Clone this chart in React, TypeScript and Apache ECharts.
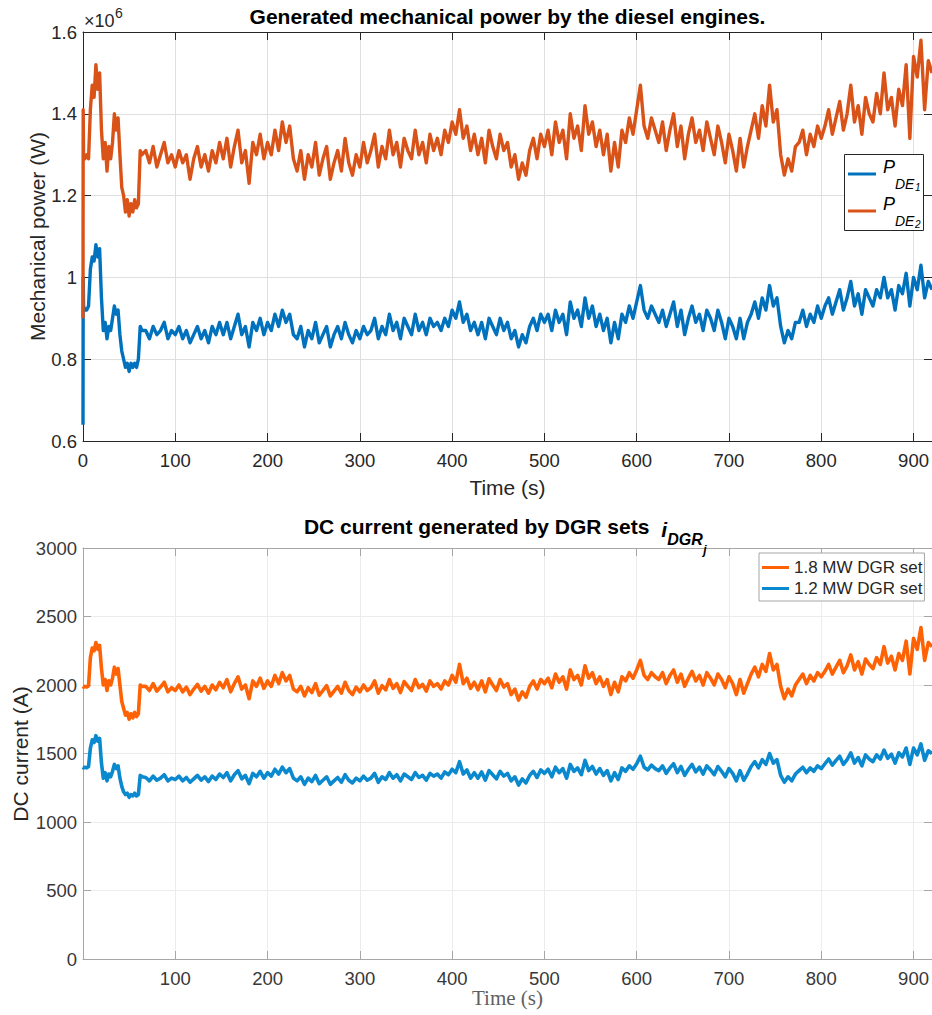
import React, { useEffect, useRef } from "react";
import * as echarts from "echarts";

// Sample instants (s): a finer start-up window, then a regular 4 s grid.
const EARLY_TIME = [
  0, 0.2, 0.6, 2, 4, 6, 8, 10, 12, 14, 16, 18, 20, 22, 24, 26, 28, 30,
  32, 34, 36, 38, 40, 42, 44, 46, 48, 50, 52, 54, 56, 58, 60, 62, 64,
];
const STEADY_START = 68;
const STEADY_STEP = 4;

// Mechanical power of diesel engine 1 (x 10^6 W)
const P_DE1 = [
  0.64, 1.0, 0.93, 0.92, 0.92, 0.93, 1.02, 1.05, 1.04, 1.08, 1.05, 1.07,
  0.95, 0.87, 0.89, 0.85, 0.88, 0.87, 0.9, 0.93, 0.91, 0.92, 0.86, 0.82,
  0.8, 0.78, 0.79, 0.77, 0.79, 0.78, 0.79, 0.78, 0.8, 0.88, 0.87,
  0.87, 0.85, 0.88, 0.86, 0.87, 0.89, 0.85, 0.87,
  0.86, 0.88, 0.85, 0.87, 0.84, 0.86, 0.88, 0.85, 0.87, 0.84, 0.88, 0.86, 0.89,
  0.86, 0.89, 0.85, 0.88, 0.91, 0.86, 0.88, 0.83, 0.89, 0.87, 0.9, 0.86,
  0.89, 0.87, 0.91, 0.88, 0.92, 0.89, 0.91, 0.86,
  0.85, 0.88, 0.83, 0.87, 0.85, 0.89, 0.84, 0.86, 0.88, 0.83, 0.86, 0.88, 0.85, 0.89, 0.86, 0.84, 0.87, 0.85,
  0.88, 0.86, 0.87, 0.9, 0.85, 0.88, 0.86, 0.91, 0.87, 0.89, 0.85, 0.9, 0.88, 0.86, 0.91, 0.87, 0.89, 0.86, 0.9, 0.88,
  0.89, 0.87, 0.9, 0.88, 0.92, 0.9, 0.94, 0.89, 0.91, 0.87,
  0.89, 0.86, 0.89, 0.85, 0.9, 0.88, 0.86, 0.9, 0.87, 0.89,
  0.85, 0.87, 0.83, 0.86, 0.84,
  0.88, 0.9, 0.87, 0.91, 0.89,
  0.91, 0.87, 0.92, 0.89, 0.91, 0.86, 0.94, 0.9, 0.92, 0.88, 0.95, 0.9, 0.93, 0.88, 0.91,
  0.87, 0.9, 0.84, 0.89, 0.85,
  0.91, 0.89, 0.93, 0.9, 0.94, 0.98, 0.92, 0.9, 0.93, 0.91,
  0.89, 0.92, 0.88, 0.91, 0.94, 0.88, 0.92, 0.86, 0.9, 0.93, 0.89, 0.91, 0.87, 0.92, 0.9, 0.87, 0.92, 0.89, 0.85, 0.9,
  0.88, 0.85, 0.9, 0.85, 0.89,
  0.91, 0.94, 0.9, 0.95, 0.92, 0.98, 0.93, 0.95,
  0.88, 0.84, 0.87, 0.85, 0.89,
  0.89, 0.92, 0.88, 0.91, 0.89, 0.93, 0.9,
  0.93, 0.95, 0.91, 0.94, 0.97, 0.92, 0.95, 0.99, 0.93, 0.96, 0.91, 0.97, 0.95,
  0.93, 0.97, 0.95, 1.0, 0.95, 0.97, 0.92, 0.98, 0.96, 1.01, 0.93,
  1.0, 0.97, 1.03, 0.95, 0.99, 0.97,
];

// Mechanical power of diesel engine 2 (x 10^6 W)
const P_DE2 = [
  0.9, 1.41, 1.3, 1.29, 1.3, 1.29, 1.41, 1.47, 1.44, 1.52, 1.46, 1.5,
  1.36, 1.29, 1.33, 1.26, 1.32, 1.29, 1.33, 1.4, 1.36, 1.39, 1.3, 1.22,
  1.2, 1.16, 1.19, 1.15, 1.18, 1.16, 1.19, 1.17, 1.18, 1.31, 1.3,
  1.31, 1.28, 1.32, 1.27, 1.3, 1.33, 1.28, 1.3,
  1.27, 1.31, 1.28, 1.3, 1.24, 1.29, 1.32, 1.27, 1.3, 1.26, 1.31, 1.28, 1.33,
  1.29, 1.34, 1.27, 1.32, 1.36, 1.28, 1.31, 1.23, 1.33, 1.3, 1.35, 1.29,
  1.33, 1.3, 1.36, 1.31, 1.38, 1.33, 1.37, 1.29,
  1.26, 1.31, 1.24, 1.3, 1.27, 1.33, 1.25, 1.29, 1.32, 1.24, 1.28, 1.31, 1.26, 1.34, 1.28, 1.25, 1.3, 1.27,
  1.33, 1.28, 1.31, 1.35, 1.27, 1.32, 1.29, 1.36, 1.3, 1.33, 1.27, 1.34, 1.31, 1.29, 1.36, 1.3, 1.33, 1.28, 1.35, 1.31,
  1.34, 1.3, 1.36, 1.33, 1.38, 1.35, 1.41, 1.34, 1.37, 1.31,
  1.35, 1.3, 1.34, 1.28, 1.36, 1.32, 1.29, 1.35, 1.31, 1.33,
  1.27, 1.3, 1.24, 1.28, 1.25,
  1.31, 1.34, 1.29, 1.35, 1.32,
  1.36, 1.3, 1.38, 1.33, 1.36, 1.29, 1.4, 1.34, 1.37, 1.31, 1.42, 1.35, 1.38, 1.32, 1.36,
  1.3, 1.35, 1.26, 1.33, 1.27,
  1.36, 1.33, 1.39, 1.35, 1.41, 1.47, 1.37, 1.34, 1.39, 1.36,
  1.33, 1.38, 1.31, 1.36, 1.4, 1.32, 1.37, 1.29, 1.35, 1.39, 1.33, 1.36, 1.31, 1.38, 1.34, 1.3, 1.37, 1.33, 1.28, 1.35,
  1.31, 1.26, 1.34, 1.27, 1.32,
  1.36, 1.4, 1.34, 1.42, 1.37, 1.47, 1.38, 1.41,
  1.3, 1.25, 1.29, 1.26, 1.32,
  1.33, 1.36, 1.3, 1.35, 1.32, 1.37, 1.34,
  1.37, 1.41, 1.35, 1.39, 1.43, 1.36, 1.4, 1.47, 1.38, 1.42, 1.35, 1.44, 1.4,
  1.38, 1.45, 1.4, 1.5, 1.41, 1.44, 1.37, 1.46, 1.42, 1.52, 1.34,
  1.54, 1.49, 1.58, 1.41, 1.53, 1.5,
];

// DC current of the 1.8 MW DGR set (A)
const I_DGR_18 = [
  1990, 1990, 1985, 1990, 1985, 1995, 2200, 2270, 2250, 2310, 2260, 2290,
  2120, 2000, 2040, 1960, 2030, 2000, 2050, 2130, 2080, 2120, 2000, 1880,
  1830, 1780, 1800, 1750, 1790, 1760, 1800, 1770, 1790, 2000, 1990,
  1990, 1960, 2010, 1955, 1985, 2020, 1950, 1980,
  1960, 2000, 1950, 1985, 1930, 1970, 2005, 1955, 1990, 1940, 2000, 1965, 2020,
  1980, 2040, 1950, 2010, 2060, 1970, 2000, 1900, 2030, 1990, 2050, 1975,
  2030, 1990, 2070, 2010, 2090, 2030, 2070, 1970,
  1950, 1990, 1920, 1980, 1945, 2010, 1925, 1960, 1995, 1920, 1955, 1990, 1940, 2020, 1960, 1930, 1985, 1950,
  2000, 1960, 1980, 2030, 1940, 1995, 1965, 2040, 1975, 2010, 1945, 2025, 1990, 1960, 2040, 1980, 2005, 1955, 2030, 1990,
  2010, 1970, 2030, 2000, 2070, 2020, 2150, 2010, 2050, 1975,
  2020, 1965, 2030, 1950, 2045, 2000, 1960, 2040, 1985, 2010,
  1930, 1970, 1890, 1950, 1910,
  1990, 2030, 1970, 2040, 2010,
  2050, 1980, 2080, 2020, 2060, 1970, 2110, 2040, 2070, 2000, 2140, 2050, 2090, 2010, 2060,
  1990, 2040, 1930, 2020, 1950,
  2060, 2030, 2090, 2050, 2110, 2180, 2070, 2040, 2090, 2060,
  2040, 2090, 2010, 2070, 2110, 2020, 2080, 1990, 2050, 2100, 2030, 2070, 2000, 2090, 2050, 2000, 2080, 2040, 1980, 2060,
  2010, 1930, 2040, 1940, 2010,
  2080, 2130, 2060, 2150, 2100, 2230, 2110, 2150,
  1990, 1900, 1970, 1920, 2000,
  2040, 2080, 2010, 2070, 2030, 2090, 2060,
  2100, 2150, 2080, 2130, 2180, 2090, 2140, 2220, 2110, 2170, 2080, 2190, 2150,
  2120, 2200, 2150, 2280, 2160, 2210, 2110, 2230, 2180, 2320, 2080,
  2340, 2260, 2420, 2180, 2310, 2280,
];

// DC current of the 1.2 MW DGR set (A)
const I_DGR_12 = [
  1400, 1400, 1395, 1400, 1395, 1405, 1540, 1600, 1580, 1630, 1590, 1610,
  1430, 1320, 1360, 1300, 1350, 1330, 1370, 1420, 1390, 1410, 1320, 1260,
  1220, 1200, 1210, 1180, 1200, 1190, 1210, 1190, 1200, 1340, 1330,
  1325, 1300, 1335, 1305, 1320, 1345, 1300, 1320,
  1310, 1335, 1300, 1325, 1290, 1315, 1340, 1305, 1330, 1295, 1335, 1310, 1350,
  1325, 1360, 1300, 1345, 1375, 1315, 1340, 1280, 1355, 1330, 1370, 1320,
  1360, 1335, 1385, 1350, 1400, 1360, 1390, 1320,
  1300, 1330, 1275, 1320, 1295, 1340, 1280, 1305, 1330, 1275, 1300, 1325, 1290, 1345, 1305, 1285, 1320, 1300,
  1335, 1305, 1320, 1355, 1290, 1330, 1310, 1360, 1320, 1345, 1300, 1350, 1330, 1310, 1360, 1325, 1340, 1305, 1355, 1335,
  1350, 1320, 1365, 1345, 1385, 1360, 1440, 1350, 1380, 1320,
  1360, 1320, 1365, 1305, 1375, 1345, 1315, 1370, 1335, 1355,
  1300, 1330, 1270, 1315, 1285,
  1340, 1370, 1325, 1380, 1355,
  1385, 1330, 1400, 1360, 1390, 1320, 1420, 1370, 1395, 1345, 1450, 1375, 1405, 1350, 1390,
  1340, 1375, 1300, 1360, 1310,
  1395, 1370, 1410, 1385, 1425, 1480, 1400, 1380, 1415, 1390,
  1375, 1410, 1355, 1395, 1425, 1360, 1405, 1340, 1385, 1420, 1365, 1400, 1350, 1410, 1380, 1345, 1405, 1370, 1330, 1390,
  1355, 1300, 1375, 1305, 1350,
  1405, 1440, 1395, 1455, 1420, 1500, 1430, 1455,
  1340, 1290, 1330, 1300, 1350,
  1375, 1400, 1360, 1395, 1370, 1410, 1390,
  1425, 1460, 1415, 1450, 1480, 1420, 1455, 1505, 1430, 1470, 1410, 1490, 1460,
  1440, 1490, 1460, 1525, 1465, 1495, 1430, 1505, 1475, 1540, 1420,
  1540, 1490, 1570, 1450, 1520, 1500,
];

const SERIES_NAMES = ["P_DE1", "P_DE2", "1.8 MW DGR set", "1.2 MW DGR set"];
const TIME_AXIS = { min: 0, max: 920, step: 100 };
const POWER_AXIS = { min: 0.6, max: 1.6, step: 0.2 };
const CURRENT_AXIS = { min: 0, max: 3000, step: 500 };

const SANS_NAME = '"Liberation Sans", Arial, Helvetica, sans-serif';
const SERIF_NAME = '"Liberation Serif", "Times New Roman", serif';
const font = (spec: string, size: number, family = SANS_NAME) => `${spec} ${size}px ${family}`;

function sampleTime(i: number): number {
  return i < EARLY_TIME.length
    ? EARLY_TIME[i]
    : STEADY_START + (i - EARLY_TIME.length) * STEADY_STEP;
}

function toPairs(values: number[]): [number, number][] {
  return values.map((v, i) => [sampleTime(i), v]);
}

let measureCtx: CanvasRenderingContext2D | null = null;
function textWidth(text: string, f: string): number {
  if (!measureCtx) measureCtx = document.createElement("canvas").getContext("2d");
  if (!measureCtx) return text.length * 10;
  measureCtx.font = f;
  return measureCtx.measureText(text).width;
}

function label(text: string, x: number, y: number, f: string, fill: string, align = "left", extra: any = {}) {
  return {
    type: "text",
    x,
    y,
    z: 101,
    ...extra,
    style: {
      text,
      font: f,
      fill,
      align,
      verticalAlign: "middle",
      textAlign: align,
      textVerticalAlign: "middle",
    },
  };
}

function frameAxes(
  grid: number,
  axisColor: string,
  gridColor: string,
  labelColor: string,
  range: { min: number; max: number; step: number },
  hideZeroTime: boolean
) {
  const tick = { show: true, inside: true, length: 8, lineStyle: { color: axisColor, width: 1 } };
  const line = { show: true, onZero: false, lineStyle: { color: axisColor, width: 1 } };
  const tickFont = { color: labelColor, fontSize: 18.5, fontFamily: SANS_NAME };
  const x = [
    {
      type: "value",
      gridIndex: grid,
      position: "bottom",
      min: TIME_AXIS.min,
      max: TIME_AXIS.max,
      interval: TIME_AXIS.step,
      axisLine: line,
      axisTick: tick,
      axisLabel: {
        ...tickFont,
        margin: 10,
        showMaxLabel: false,
        formatter: (v: number) => (hideZeroTime && v === 0 ? "" : String(v)),
      },
      splitLine: { show: true, lineStyle: { color: gridColor, width: 1 } },
    },
    {
      type: "value",
      gridIndex: grid,
      position: "top",
      min: TIME_AXIS.min,
      max: TIME_AXIS.max,
      interval: TIME_AXIS.step,
      axisLine: line,
      axisTick: tick,
      axisLabel: { show: false },
      splitLine: { show: false },
    },
  ];
  const y = [
    {
      type: "value",
      gridIndex: grid,
      position: "left",
      min: range.min,
      max: range.max,
      interval: range.step,
      axisLine: line,
      axisTick: tick,
      axisLabel: { ...tickFont, margin: 6, formatter: (v: number) => String(+v.toFixed(6)) },
      splitLine: { show: true, lineStyle: { color: gridColor, width: 1 } },
    },
    {
      type: "value",
      gridIndex: grid,
      position: "right",
      min: range.min,
      max: range.max,
      interval: range.step,
      axisLine: line,
      axisTick: tick,
      axisLabel: { show: false },
      splitLine: { show: false },
    },
  ];
  return { x, y };
}

// One entry of the power legend: line sample, then P with a two-level subscript.
function legendEntry(y: number, color: string, sub: string) {
  const pFont = font("italic", 18);
  const deFont = font("italic", 14);
  const nFont = font("italic", 10);
  const xP = 883;
  const xDE = xP + textWidth("P", pFont);
  const xN = xDE + textWidth("DE", deFont) + 0.5;
  return [
    {
      type: "line",
      z: 101,
      shape: { x1: 848, y1: y, x2: 876, y2: y },
      style: { stroke: color, lineWidth: 3 },
    },
    label("P", xP, y - 7, pFont, "#000"),
    label("DE", xDE, y + 10, deFont, "#000"),
    label(sub, xN, y + 13.2, nFont, "#000"),
  ];
}

export default function App() {
  const ref = useRef<HTMLDivElement>(null);

  useEffect(() => {
    if (!ref.current) return;
    const chart = echarts.init(ref.current, undefined, { renderer: "svg" });

    const top = frameAxes(0, "#262626", "#dfdfdf", "#262626", POWER_AXIS, false);
    const bottom = frameAxes(1, "#a6a6a6", "#ececec", "#383838", CURRENT_AXIS, true);

    const lineSeries = (
      name: string,
      values: number[],
      color: string,
      xIdx: number,
      yIdx: number,
      width: number
    ) => ({
      name,
      type: "line",
      xAxisIndex: xIdx,
      yAxisIndex: yIdx,
      data: toPairs(values),
      showSymbol: false,
      symbol: "none",
      clip: true,
      lineStyle: { color, width, join: "round" },
      itemStyle: { color },
      emphasis: { disabled: true },
    });

    // exponent marker of the power axis
    const expFont = font("normal", 18);
    const expX = 84;
    const expSupX = expX + textWidth("\u00d710", expFont) + 0.5;

    // bottom title with the subscripted current symbol
    const titleFont = font("bold", 21);
    const mainTitle = "DC current generated by DGR sets";
    const iFont = font("italic bold", 21);
    const dgrFont = font("italic bold", 16);
    const jFont = font("italic bold", 12);
    const mainW = textWidth(mainTitle, titleFont);
    const iW = textWidth("i", iFont);
    const dgrW = textWidth("DGR", dgrFont);
    const jW = textWidth("j", jFont);
    const gap = 12;
    const totalW = mainW + gap + iW + dgrW + jW;
    const titleLeft = 505 - totalW / 2;
    const xI = titleLeft + mainW + gap;
    const xDGR = xI + iW;
    const xJ = xDGR + dgrW + 0.5;

    chart.setOption({
      animation: false,
      backgroundColor: "#ffffff",
      grid: [
        { left: 83, top: 32, width: 849, height: 409 },
        { left: 83, top: 548, width: 849, height: 411 },
      ],
      xAxis: [...top.x, ...bottom.x],
      yAxis: [...top.y, ...bottom.y],
      legend: {
        data: [SERIES_NAMES[2], SERIES_NAMES[3]],
        orient: "vertical",
        left: 759,
        top: 553,
        icon: "rect",
        itemWidth: 27,
        itemHeight: 3,
        itemGap: 2,
        padding: [5, 2, 3, 3],
        backgroundColor: "#ffffff",
        borderColor: "#a6a6a6",
        borderWidth: 1,
        borderRadius: 0,
        selectedMode: false,
        textStyle: { fontSize: 17, color: "#262626", fontFamily: SANS_NAME, lineHeight: 19 },
      },
      series: [
        lineSeries(SERIES_NAMES[0], P_DE1, "#0072BD", 0, 0, 3.4),
        lineSeries(SERIES_NAMES[1], P_DE2, "#D95319", 0, 0, 3.4),
        lineSeries(SERIES_NAMES[2], I_DGR_18, "#FF6205", 2, 2, 3.6),
        lineSeries(SERIES_NAMES[3], I_DGR_12, "#0A89CF", 2, 2, 3.6),
      ],
      graphic: [
        label("Generated mechanical power by the diesel engines.", 507.5, 16.5, titleFont, "#000", "center"),
        label("\u00d710", expX, 20.5, expFont, "#262626"),
        label("6", expSupX, 13, font("normal", 14), "#262626"),
        label("Time (s)", 507.5, 487, font("normal", 21), "#262626", "center"),
        label("Mechanical power (W)", 37, 236.5, font("normal", 21), "#262626", "center", {
          rotation: Math.PI / 2,
        }),
        {
          type: "rect",
          z: 100,
          shape: { x: 844.5, y: 154.5, width: 79, height: 76 },
          style: { fill: "#ffffff", stroke: "#262626", lineWidth: 1 },
        },
        ...legendEntry(174, "#0072BD", "1"),
        ...legendEntry(211, "#D95319", "2"),
        label(mainTitle, titleLeft, 526, titleFont, "#000"),
        label("i", xI, 529.7, iFont, "#000"),
        label("DGR", xDGR, 539.5, dgrFont, "#000"),
        label("j", xJ, 550, jFont, "#000"),
        label("Time (s)", 507.5, 998, font("normal", 21, SERIF_NAME), "#5f5f5f", "center"),
        label("DC current (A)", 20, 754, font("normal", 21), "#262626", "center", {
          rotation: Math.PI / 2,
        }),
      ],
    });

    return () => chart.dispose();
  }, []);

  return (
    <div
      ref={ref}
      style={{ position: "absolute", left: 0, top: 0, width: 932, height: 1015, background: "#fff" }}
    />
  );
}
